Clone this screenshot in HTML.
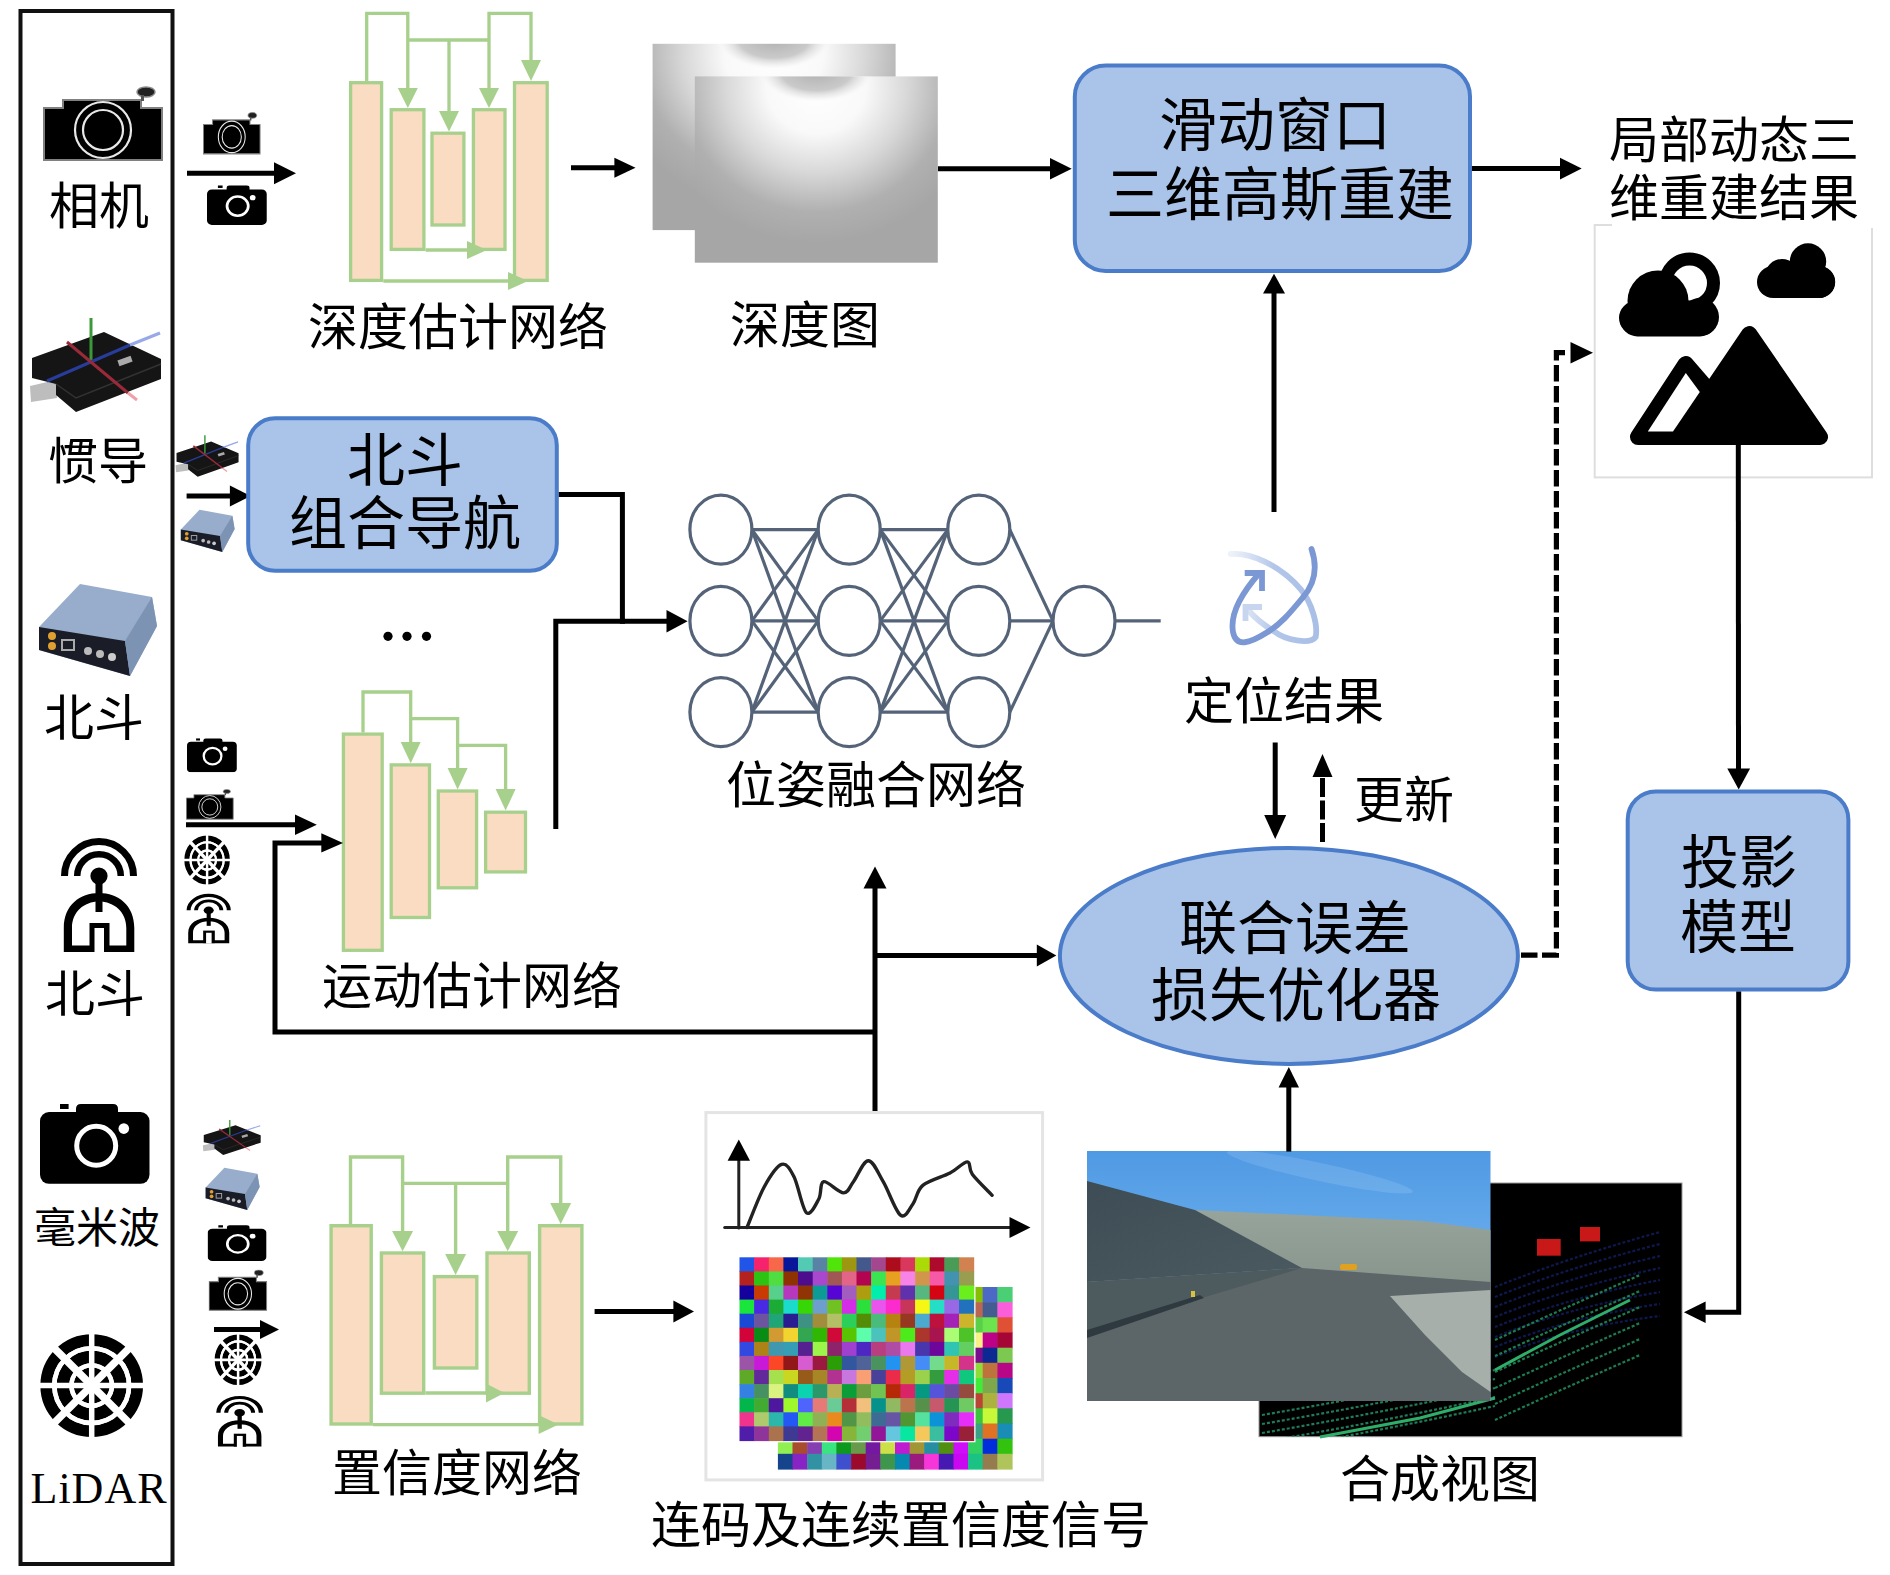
<!DOCTYPE html>
<html lang="zh-CN"><head><meta charset="utf-8"><title>diagram</title>
<style>html,body{margin:0;padding:0;background:#fff;}svg{display:block;font-family:"Liberation Serif",serif;}</style>
</head><body>
<svg width="1890" height="1575" viewBox="0 0 1890 1575">
<rect width="1890" height="1575" fill="#fff"/>
<defs>
<radialGradient id="dg1" gradientUnits="userSpaceOnUse" cx="121.5" cy="10" r="165" gradientTransform="translate(121.5 10) scale(1 0.95) translate(-121.5 -10)">
<stop offset="0" stop-color="#ffffff"/><stop offset="0.3" stop-color="#f9f9f9"/>
<stop offset="0.55" stop-color="#d8d8d8"/><stop offset="0.8" stop-color="#b0b0b0"/><stop offset="1" stop-color="#a6a6a6"/></radialGradient>
<radialGradient id="dg2" gradientUnits="userSpaceOnUse" cx="121.5" cy="-4" r="58" gradientTransform="translate(121.5 -4) scale(1 0.52) translate(-121.5 4)">
<stop offset="0" stop-color="#b0b0b0" stop-opacity="1"/><stop offset="0.6" stop-color="#c4c4c4" stop-opacity="0.9"/><stop offset="0.85" stop-color="#e8e8e8" stop-opacity="0.5"/><stop offset="1" stop-color="#ffffff" stop-opacity="0"/></radialGradient>
<linearGradient id="sky" x1="0" y1="0" x2="0" y2="1"><stop offset="0" stop-color="#509ae4"/><stop offset="0.6" stop-color="#72b4ee"/><stop offset="1" stop-color="#8ccaf4"/></linearGradient>
<linearGradient id="cliff" x1="0" y1="0" x2="0" y2="1"><stop offset="0" stop-color="#97a49c"/><stop offset="1" stop-color="#86948c"/></linearGradient>
<linearGradient id="hill" x1="0" y1="0" x2="1" y2="1"><stop offset="0" stop-color="#3e4c55"/><stop offset="1" stop-color="#4b5a60"/></linearGradient>
<linearGradient id="swB" x1="0" y1="0" x2="1" y2="0"><stop offset="0" stop-color="#c5d4ef" stop-opacity="0.3"/><stop offset="0.5" stop-color="#b3c6ea"/><stop offset="1" stop-color="#a9bfe6"/></linearGradient>
<symbol id="retro" viewBox="43 86 121 76" preserveAspectRatio="none">
<path d="M44,108 H63 V100 H141 V108 H162 V160 H44 Z" fill="#000" stroke="#808080" stroke-width="2"/>
<ellipse cx="146" cy="92" rx="9" ry="5" fill="#222" stroke="#888" stroke-width="1.5"/>
<rect x="141" y="95" width="3" height="6" fill="#555"/>
<circle cx="103" cy="130" r="28" fill="none" stroke="#e8e8e8" stroke-width="2.2"/>
<circle cx="103" cy="130" r="20" fill="none" stroke="#e8e8e8" stroke-width="2.2"/>
</symbol>
<symbol id="modern" viewBox="40 1103 110 81" preserveAspectRatio="none">
<rect x="40" y="1112" width="109.5" height="71.8" rx="9" fill="#000"/>
<path d="M76,1114 V1109 Q76,1104 81,1104 H113 Q118,1104 118,1109 V1114 Z" fill="#000"/>
<rect x="60" y="1104" width="8.6" height="5" fill="#000"/>
<circle cx="96.2" cy="1145.7" r="19.5" fill="none" stroke="#fff" stroke-width="5"/>
<circle cx="123.8" cy="1128.6" r="5.3" fill="#fff"/>
</symbol>
<symbol id="imu" viewBox="28 315 136 100" preserveAspectRatio="none">
<path d="M30,386 L56,380 L57,398 L31,402 Z" fill="#bdbdbd"/>
<path d="M32,358 L104,332 L161,359 L161,379 L76,412 L56,395 L56,384 L32,378 Z" fill="#151515"/>
<path d="M56,384 L76,398 L161,364" fill="none" stroke="#333" stroke-width="1.5"/>
<line x1="91" y1="318" x2="91" y2="360" stroke="#3a9a3a" stroke-width="3"/>
<line x1="47" y1="381" x2="130" y2="345" stroke="#283c9a" stroke-width="3"/>
<line x1="130" y1="345" x2="160" y2="333" stroke="#98a8e8" stroke-width="3"/>
<line x1="67" y1="342" x2="128" y2="393" stroke="#9a2a3a" stroke-width="3"/>
<line x1="128" y1="393" x2="137" y2="400" stroke="#f0a0a8" stroke-width="3"/>
<rect x="118" y="358" width="14" height="6" fill="#aaa" transform="rotate(-20 125 361)"/>
</symbol>
<symbol id="gnss" viewBox="35 580 125 98" preserveAspectRatio="none">
<path d="M39,627 L80,584 L152,597 L157,626 L130,676 L39,650 Z" fill="#97adcb"/>
<path d="M39,627 L125,641 L130,676 L39,650 Z" fill="#1a1d28"/>
<path d="M125,641 L152,597 L157,626 L130,676 Z" fill="#7d93b4"/>
<circle cx="52" cy="636" r="4" fill="#e0a030"/><circle cx="52" cy="646" r="4" fill="#e0a030"/>
<rect x="62" y="640" width="12" height="10" fill="none" stroke="#aaa" stroke-width="2"/>
<circle cx="88" cy="651" r="4" fill="#bbb"/><circle cx="100" cy="654" r="4" fill="#bbb"/><circle cx="112" cy="657" r="4" fill="#ccc"/>
</symbol>
<symbol id="ant" viewBox="60 836 78 118" preserveAspectRatio="none">
<path d="M64.5,876 A34.5,34.5 0 0 1 133.5,876" fill="none" stroke="#000" stroke-width="7"/>
<path d="M77.2,876 A21.8,21.8 0 0 1 120.8,876" fill="none" stroke="#000" stroke-width="6.5"/>
<circle cx="99" cy="876" r="8.6" fill="#000"/>
<rect x="95.5" y="876" width="7" height="36" fill="#000"/>
<path fill-rule="evenodd" fill="#000" d="M63.8,952 V928 C63.8,905 80,893 99,893 C118,893 134.3,905 134.3,928 V952 Z M72,945.5 V928 C72,912 84,901.5 99,901.5 C114,901.5 126.3,912 126.3,928 V945.5 Z"/>
<rect x="89.5" y="923" width="20" height="29" fill="#000"/>
<rect x="94.5" y="928" width="9.5" height="25" fill="#fff"/>
</symbol>
<symbol id="lidar" viewBox="39 1333 105 105" preserveAspectRatio="none">
<circle cx="91.7" cy="1385.6" r="45.5" fill="none" stroke="#000" stroke-width="11.7"/>
<circle cx="91.7" cy="1385.6" r="28.8" fill="none" stroke="#000" stroke-width="12.5"/>
<circle cx="91.7" cy="1385.6" r="12.5" fill="none" stroke="#000" stroke-width="11"/>
<g stroke="#fff" stroke-width="5.5">
<line x1="91.7" y1="1330" x2="91.7" y2="1440"/><line x1="36" y1="1385.6" x2="147" y2="1385.6"/>
</g>
<g stroke="#fff" stroke-width="7.5">
<line x1="52" y1="1346" x2="131.4" y2="1425.2"/><line x1="131.4" y1="1346" x2="52" y2="1425.2"/>
</g>
<circle cx="91.7" cy="1385.6" r="37.4" fill="none" stroke="#fff" stroke-width="4.6"/>
<circle cx="91.7" cy="1385.6" r="20.2" fill="none" stroke="#fff" stroke-width="4.4"/>
</symbol>
</defs>
<rect x="20.5" y="11.0" width="152.0" height="1553.0" rx="0" fill="none" stroke="#111" stroke-width="4"/>
<use href="#retro" x="43" y="86" width="121" height="76"/>
<text x="99" y="223.8" font-size="50" text-anchor="middle">相机</text>
<use href="#imu" x="28" y="315" width="136" height="100"/>
<text x="97.7" y="478.8" font-size="50" text-anchor="middle">惯导</text>
<use href="#gnss" x="35" y="580" width="125" height="98"/>
<text x="94" y="735.8" font-size="50" text-anchor="middle">北斗</text>
<use href="#ant" x="60" y="836" width="78" height="118"/>
<text x="94.8" y="1011.8" font-size="50" text-anchor="middle">北斗</text>
<use href="#modern" x="40" y="1103" width="110" height="81"/>
<text x="97" y="1243.4" font-size="42" text-anchor="middle">毫米波</text>
<use href="#lidar" x="39" y="1333" width="105" height="105"/>
<text x="99" y="1502.6" font-size="44" text-anchor="middle" letter-spacing="1">LiDAR</text>
<use href="#retro" x="203" y="112" width="58.0" height="43.0"/>
<use href="#modern" x="207" y="185" width="60.0" height="40.0"/>
<line x1="187" y1="173.3" x2="275" y2="173.3" stroke="#000" stroke-width="5"/>
<polygon points="296,173.3 274,162.3 274,184.3" fill="#000"/>
<use href="#imu" x="174.6" y="434" width="65.4" height="44.0"/>
<use href="#gnss" x="179" y="508" width="57.0" height="45.0"/>
<line x1="186.6" y1="496" x2="230.9" y2="496" stroke="#000" stroke-width="5"/>
<polygon points="250.7,496 229.9,485.5 229.9,506.5" fill="#000"/>
<use href="#modern" x="187" y="738" width="50.0" height="34.3"/>
<use href="#retro" x="186" y="789" width="48.0" height="31.0"/>
<use href="#lidar" x="183.7" y="835" width="46.6" height="50.0"/>
<use href="#ant" x="186" y="893" width="45.4" height="51.0"/>
<line x1="186" y1="824.7" x2="296" y2="824.7" stroke="#000" stroke-width="5"/>
<polygon points="316.8,824.7 295,814.4000000000001 295,835.0" fill="#000"/>
<use href="#imu" x="202" y="1119" width="60.0" height="37.0"/>
<use href="#gnss" x="203.8" y="1166" width="57.2" height="45.0"/>
<use href="#modern" x="207.6" y="1224.8" width="59.1" height="36.2"/>
<use href="#retro" x="208.6" y="1269.5" width="59.0" height="41.9"/>
<line x1="214" y1="1329.5" x2="261" y2="1329.5" stroke="#000" stroke-width="5"/>
<polygon points="279,1329.5 260,1320.0 260,1339.0" fill="#000"/>
<use href="#lidar" x="214" y="1334" width="48.0" height="51.6"/>
<use href="#ant" x="215.6" y="1395" width="48.1" height="52.5"/>
<rect x="350.6" y="82.7" width="31.0" height="197.7" rx="0" fill="#f9dcc1" stroke="#a8d08d" stroke-width="3.3"/>
<rect x="391.2" y="109.7" width="32.7" height="139.7" rx="0" fill="#f9dcc1" stroke="#a8d08d" stroke-width="3.3"/>
<rect x="432.0" y="133.2" width="31.9" height="91.8" rx="0" fill="#f9dcc1" stroke="#a8d08d" stroke-width="3.3"/>
<rect x="473.4" y="109.7" width="31.6" height="139.7" rx="0" fill="#f9dcc1" stroke="#a8d08d" stroke-width="3.3"/>
<rect x="514.5" y="82.7" width="32.7" height="197.7" rx="0" fill="#f9dcc1" stroke="#a8d08d" stroke-width="3.3"/>
<polyline points="366.7,81 366.7,13.3 407.8,13.3 407.8,92" fill="none" stroke="#a8d08d" stroke-width="3.3" stroke-linejoin="miter"/>
<polygon points="407.8,108 397.8,88 417.8,88" fill="#a8d08d"/>
<polyline points="407.8,40 489,40" fill="none" stroke="#a8d08d" stroke-width="3.3" stroke-linejoin="miter"/>
<polyline points="449,40 449,115" fill="none" stroke="#a8d08d" stroke-width="3.3" stroke-linejoin="miter"/>
<polygon points="449,131.6 439,111 459,111" fill="#a8d08d"/>
<polyline points="489,92 489,13.3 531,13.3 531,64" fill="none" stroke="#a8d08d" stroke-width="3.3" stroke-linejoin="miter"/>
<polygon points="489,108 479,88 499,88" fill="#a8d08d"/>
<polygon points="531,81 521,60 541,60" fill="#a8d08d"/>
<polyline points="425.6,250 470,250" fill="none" stroke="#a8d08d" stroke-width="3.3" stroke-linejoin="miter"/>
<polygon points="487,250 467,241 467,259" fill="#a8d08d"/>
<polyline points="383.3,281 510,281" fill="none" stroke="#a8d08d" stroke-width="3.3" stroke-linejoin="miter"/>
<polygon points="528,281 508,272 508,290" fill="#a8d08d"/>
<rect x="343.4" y="734.1" width="38.8" height="216.2" rx="0" fill="#f9dcc1" stroke="#a8d08d" stroke-width="3.3"/>
<rect x="391.2" y="764.9" width="38.3" height="152.6" rx="0" fill="#f9dcc1" stroke="#a8d08d" stroke-width="3.3"/>
<rect x="438.3" y="791.0" width="38.3" height="96.8" rx="0" fill="#f9dcc1" stroke="#a8d08d" stroke-width="3.3"/>
<rect x="485.6" y="812.2" width="39.9" height="59.7" rx="0" fill="#f9dcc1" stroke="#a8d08d" stroke-width="3.3"/>
<polyline points="363,732.5 363,692 410.7,692 410.7,745" fill="none" stroke="#a8d08d" stroke-width="3.3" stroke-linejoin="miter"/>
<polygon points="410.7,763.2 400.7,742 420.7,742" fill="#a8d08d"/>
<polyline points="410.7,718.7 457.6,718.7 457.6,771" fill="none" stroke="#a8d08d" stroke-width="3.3" stroke-linejoin="miter"/>
<polygon points="457.6,789.4 447.6,768 467.6,768" fill="#a8d08d"/>
<polyline points="457.6,745.3 505.6,745.3 505.6,792" fill="none" stroke="#a8d08d" stroke-width="3.3" stroke-linejoin="miter"/>
<polygon points="505.6,810.6 495.6,789 515.6,789" fill="#a8d08d"/>
<rect x="331.1" y="1225.7" width="40.1" height="198.3" rx="0" fill="#f9dcc1" stroke="#a8d08d" stroke-width="3.4"/>
<rect x="381.4" y="1253.0" width="42.3" height="140.2" rx="0" fill="#f9dcc1" stroke="#a8d08d" stroke-width="3.4"/>
<rect x="434.4" y="1276.6" width="42.4" height="91.4" rx="0" fill="#f9dcc1" stroke="#a8d08d" stroke-width="3.4"/>
<rect x="487.0" y="1253.0" width="42.3" height="140.2" rx="0" fill="#f9dcc1" stroke="#a8d08d" stroke-width="3.4"/>
<rect x="539.6" y="1225.7" width="42.3" height="198.3" rx="0" fill="#f9dcc1" stroke="#a8d08d" stroke-width="3.4"/>
<polyline points="350.5,1224 350.5,1157 402.6,1157 402.6,1233" fill="none" stroke="#a8d08d" stroke-width="3.4" stroke-linejoin="miter"/>
<polygon points="402.6,1251.3 392.1,1231 413.1,1231" fill="#a8d08d"/>
<polyline points="402.6,1183.4 507.7,1183.4" fill="none" stroke="#a8d08d" stroke-width="3.4" stroke-linejoin="miter"/>
<polyline points="455.6,1183.4 455.6,1256" fill="none" stroke="#a8d08d" stroke-width="3.4" stroke-linejoin="miter"/>
<polygon points="455.6,1274.9 445.1,1254 466.1,1254" fill="#a8d08d"/>
<polyline points="507.7,1233 507.7,1157 560.7,1157 560.7,1205" fill="none" stroke="#a8d08d" stroke-width="3.4" stroke-linejoin="miter"/>
<polygon points="507.7,1251.3 497.2,1231 518.2,1231" fill="#a8d08d"/>
<polygon points="560.7,1224 550.2,1203 571.2,1203" fill="#a8d08d"/>
<polyline points="425.4,1393 488,1393" fill="none" stroke="#a8d08d" stroke-width="3.4" stroke-linejoin="miter"/>
<polygon points="504.5,1393 486,1383.5 486,1402.5" fill="#a8d08d"/>
<polyline points="372.9,1424.6 541,1424.6" fill="none" stroke="#a8d08d" stroke-width="3.4" stroke-linejoin="miter"/>
<polygon points="558.5,1424.6 538.6,1415.1 538.6,1434.1" fill="#a8d08d"/>
<text x="457.7" y="345.2" font-size="50" text-anchor="middle">深度估计网络</text>
<text x="471.7" y="1004.4" font-size="50" text-anchor="middle">运动估计网络</text>
<text x="457.4" y="1490.8" font-size="50" text-anchor="middle">置信度网络</text>
<g transform="translate(652.6,43.8)"><rect width="243" height="186.3" fill="url(#dg1)"/><rect width="243" height="186.3" fill="url(#dg2)"/></g>
<g transform="translate(694.8,76.4)"><rect width="243" height="186.3" fill="url(#dg1)"/><rect width="243" height="186.3" fill="url(#dg2)"/></g>
<text x="805" y="342.8" font-size="50" text-anchor="middle">深度图</text>
<line x1="571" y1="167.8" x2="615.4" y2="167.8" stroke="#000" stroke-width="5"/>
<polygon points="635.5,167.8 614.4,157.8 614.4,177.8" fill="#000"/>
<line x1="938" y1="168.8" x2="1051" y2="168.8" stroke="#000" stroke-width="5"/>
<polygon points="1071.7,168.8 1050,158.10000000000002 1050,179.5" fill="#000"/>
<rect x="1074.8" y="65.5" width="395.2" height="205.5" rx="31" fill="#a9c4e8" stroke="#4a7cc9" stroke-width="4"/>
<text x="1275.4" y="146.1" font-size="58" text-anchor="middle">滑动窗口</text>
<text x="1279.5" y="214.8" font-size="58" text-anchor="middle">三维高斯重建</text>
<line x1="1472" y1="168.6" x2="1561" y2="168.6" stroke="#000" stroke-width="5"/>
<polygon points="1581.7,168.6 1560,157.79999999999998 1560,179.4" fill="#000"/>
<text x="1733.5" y="157.6" font-size="50" text-anchor="middle">局部动态三</text>
<text x="1733.5" y="215.8" font-size="50" text-anchor="middle">维重建结果</text>
<rect x="248.2" y="418.2" width="308.6" height="152.6" rx="27" fill="#a9c4e8" stroke="#4a7cc9" stroke-width="4"/>
<text x="404.7" y="480.9" font-size="58" text-anchor="middle">北斗</text>
<text x="405.3" y="544.1" font-size="58" text-anchor="middle">组合导航</text>
<circle cx="388" cy="636.3" r="4.6" fill="#000"/><circle cx="407" cy="636.3" r="4.6" fill="#000"/><circle cx="426.5" cy="636.3" r="4.6" fill="#000"/>
<polyline points="558.8,494.5 622.4,494.5 622.4,621.3 668,621.3" fill="none" stroke="#000" stroke-width="5" stroke-linejoin="miter"/>
<polygon points="687.6,621.3 666.5,610.0999999999999 666.5,632.5" fill="#000"/>
<polyline points="555.8,829 555.8,621.3 625,621.3" fill="none" stroke="#000" stroke-width="5" stroke-linejoin="miter"/>
<g stroke="#546378" stroke-width="3.2">
<line x1="751.9" y1="529.6" x2="818.2" y2="529.6"/>
<line x1="751.9" y1="529.6" x2="818.2" y2="620.9"/>
<line x1="751.9" y1="529.6" x2="818.2" y2="712.1"/>
<line x1="751.9" y1="620.9" x2="818.2" y2="529.6"/>
<line x1="751.9" y1="620.9" x2="818.2" y2="620.9"/>
<line x1="751.9" y1="620.9" x2="818.2" y2="712.1"/>
<line x1="751.9" y1="712.1" x2="818.2" y2="529.6"/>
<line x1="751.9" y1="712.1" x2="818.2" y2="620.9"/>
<line x1="751.9" y1="712.1" x2="818.2" y2="712.1"/>
<line x1="880.2" y1="529.6" x2="947.8" y2="529.6"/>
<line x1="880.2" y1="529.6" x2="947.8" y2="620.9"/>
<line x1="880.2" y1="529.6" x2="947.8" y2="712.1"/>
<line x1="880.2" y1="620.9" x2="947.8" y2="529.6"/>
<line x1="880.2" y1="620.9" x2="947.8" y2="620.9"/>
<line x1="880.2" y1="620.9" x2="947.8" y2="712.1"/>
<line x1="880.2" y1="712.1" x2="947.8" y2="529.6"/>
<line x1="880.2" y1="712.1" x2="947.8" y2="620.9"/>
<line x1="880.2" y1="712.1" x2="947.8" y2="712.1"/>
<line x1="1009.8" y1="529.6" x2="1053" y2="620.9"/>
<line x1="1009.8" y1="620.9" x2="1053" y2="620.9"/>
<line x1="1009.8" y1="712.1" x2="1053" y2="620.9"/>
<line x1="1084" y1="620.9" x2="1160.7" y2="620.9"/>
</g>
<g stroke="#546378" stroke-width="3.2" fill="#fff">
<ellipse cx="720.9" cy="529.6" rx="31" ry="34.5"/>
<ellipse cx="720.9" cy="620.9" rx="31" ry="34.5"/>
<ellipse cx="720.9" cy="712.1" rx="31" ry="34.5"/>
<ellipse cx="849.2" cy="529.6" rx="31" ry="34.5"/>
<ellipse cx="849.2" cy="620.9" rx="31" ry="34.5"/>
<ellipse cx="849.2" cy="712.1" rx="31" ry="34.5"/>
<ellipse cx="978.8" cy="529.6" rx="31" ry="34.5"/>
<ellipse cx="978.8" cy="620.9" rx="31" ry="34.5"/>
<ellipse cx="978.8" cy="712.1" rx="31" ry="34.5"/>
<ellipse cx="1084" cy="620.9" rx="31" ry="34.5"/>
</g>
<text x="876.3" y="802.8" font-size="50" text-anchor="middle">位姿融合网络</text>
<g fill="none" stroke-linecap="round" stroke-width="5.8">
<path d="M1230.6,554 C1250,552 1280,565 1300.8,589.4 C1312,603 1318,625 1315.7,637 C1310,645 1285,640 1274.4,631.5 C1262,624 1255,618 1249,611" stroke="url(#swB)"/>
<path d="M1244.5,607 H1262 M1245.5,604 V621" stroke="#c8d5ee" stroke-linecap="butt"/>
<path d="M1311.5,549 C1318,568 1314,585 1302.4,598 C1290,613 1280,625 1266,633 C1250,643 1236,648 1233,632 C1230,615 1240,595 1259.5,573" stroke="#7b98d4"/>
<path d="M1244.7,573 H1262 V591" stroke="#7b98d4" stroke-linecap="butt"/>
</g>
<text x="1283.9" y="719.2" font-size="50" text-anchor="middle">定位结果</text>
<polyline points="1274,512 1274,291" fill="none" stroke="#000" stroke-width="5" stroke-linejoin="miter"/>
<polygon points="1274,273.8 1263,293.5 1285,293.5" fill="#000"/>
<polyline points="1275.2,742.5 1275.2,818" fill="none" stroke="#000" stroke-width="5" stroke-linejoin="miter"/>
<polygon points="1275.2,839 1264.2,815 1286.2,815" fill="#000"/>
<polyline points="1322.5,778 1322.5,845" fill="none" stroke="#000" stroke-width="5" stroke-linejoin="miter" stroke-dasharray="19,3.5"/>
<polygon points="1322.5,754 1312.5,777 1332.5,777" fill="#000"/>
<text x="1404" y="817.8" font-size="50" text-anchor="middle">更新</text>
<ellipse cx="1288.9" cy="955.9" rx="229" ry="108" fill="#a9c4e8" stroke="#4a7cc9" stroke-width="4"/>
<text x="1295.3" y="948.9" font-size="58" text-anchor="middle">联合误差</text>
<text x="1296" y="1015.8" font-size="58" text-anchor="middle">损失优化器</text>
<polyline points="875,1111 875,886" fill="none" stroke="#000" stroke-width="5" stroke-linejoin="miter"/>
<polygon points="875,866.5 863.5,888.4 886.5,888.4" fill="#000"/>
<polyline points="875,955.6 1038,955.6" fill="none" stroke="#000" stroke-width="5" stroke-linejoin="miter"/>
<polygon points="1056.3,955.6 1036.8,944.6 1036.8,966.6" fill="#000"/>
<polyline points="875,1032 275,1032 275,842.9 323,842.9" fill="none" stroke="#000" stroke-width="5" stroke-linejoin="miter"/>
<polygon points="343,842.9 321.3,833.1999999999999 321.3,852.6" fill="#000"/>
<polyline points="1565,352.7 1556.4,352.7 1556.4,955.2 1520,955.2" fill="none" stroke="#000" stroke-width="5.2" stroke-linejoin="miter" stroke-dasharray="16.5,4.5"/>
<polygon points="1593,352.7 1570.5,341.9 1570.5,363.5" fill="#000"/>
<rect x="1594.7" y="225" width="277.3" height="252.4" fill="none" stroke="#dedede" stroke-width="2"/>
<rect x="1612" y="221" width="270" height="7" fill="#fff"/>
<path d="M1638,437 L1685.8,364 L1710,392 L1749.3,334 L1820,437 Z" fill="#000" stroke="#000" stroke-width="16" stroke-linejoin="round"/>
<path d="M1685.8,373 L1647.8,431.4 L1673,431.4 L1699.8,392 Z" fill="#fff"/>
<circle cx="1689.5" cy="283" r="24" fill="none" stroke="#000" stroke-width="13"/>
<g fill="#000"><circle cx="1658" cy="301" r="30.5"/><circle cx="1636" cy="318" r="17"/><circle cx="1700" cy="317" r="19"/><rect x="1620.4" y="302" width="96.6" height="34.4" rx="17"/></g>
<g fill="#000"><circle cx="1808" cy="261.5" r="18.2"/><circle cx="1782" cy="276" r="17"/><circle cx="1819" cy="282" r="16"/><rect x="1757" y="266" width="78.2" height="32" rx="16"/></g>
<polyline points="1738.3,445 1738.5,770" fill="none" stroke="#000" stroke-width="5" stroke-linejoin="miter"/>
<polygon points="1738.7,789.4 1727.3,768.6 1750.1000000000001,768.6" fill="#000"/>
<rect x="1627.7" y="791.4" width="220.7" height="198.1" rx="28" fill="#a9c4e8" stroke="#4a7cc9" stroke-width="4"/>
<text x="1739.3" y="883.1" font-size="58" text-anchor="middle">投影</text>
<text x="1738" y="948.0" font-size="58" text-anchor="middle">模型</text>
<polyline points="1738.7,991.5 1738.7,1312.2 1704,1312.2" fill="none" stroke="#000" stroke-width="5" stroke-linejoin="miter"/>
<polygon points="1683.9,1312.2 1705.6,1301.4 1705.6,1323.0" fill="#000"/>
<rect x="705.9" y="1112.6" width="336.7" height="367.3" fill="#fff" stroke="#e4e4e4" stroke-width="3"/>
<g stroke="#222" fill="none" stroke-linecap="round" stroke-linejoin="round">
<line x1="738.8" y1="1228" x2="738.8" y2="1158" stroke-width="3"/>
<line x1="724.7" y1="1227.5" x2="1011" y2="1227.5" stroke-width="3"/>
<path d="M747,1227.5 C749.9,1220.7 758.5,1197.2 764.3,1186.7 C770.1,1176.2 776.6,1166.1 781.6,1164.4 C786.6,1162.8 789.9,1168.8 794,1176.8 C798.1,1184.8 802.3,1209.0 806.4,1212.7 C810.5,1216.4 815.9,1204.2 818.8,1199 C821.7,1193.8 819.6,1182.7 823.7,1181.7 C827.8,1180.7 838.5,1192.9 843.5,1192.9 C848.5,1192.9 849.3,1187.1 853.4,1181.7 C857.5,1176.3 863.3,1160.7 868.3,1160.7 C873.3,1160.7 877.8,1172.6 883.2,1181.7 C888.6,1190.8 895.5,1211.5 900.5,1215.2 C905.5,1218.9 909.2,1209.0 912.9,1204 C916.6,1199.0 916.6,1190.6 922.8,1185.4 C929.0,1180.2 942.6,1176.9 950,1173 C957.4,1169.1 963.7,1161.7 967.4,1161.9 C971.1,1162.1 968.2,1168.7 972.3,1174.3 C976.4,1179.9 988.8,1191.8 992.1,1195.3" stroke-width="3.4"/>
</g>
<polygon points="738.8,1139.6 727.5999999999999,1160.7 750.0,1160.7" fill="#000"/>
<polygon points="1030.5,1227.5 1009.5,1216.9 1009.5,1238.1" fill="#000"/>
<rect x="777.9" y="1287.0" width="15.2" height="15.8" fill="#7cb62d"/>
<rect x="792.5" y="1287.0" width="15.2" height="15.8" fill="#1e4a93"/>
<rect x="807.2" y="1287.0" width="15.2" height="15.8" fill="#aa1b0f"/>
<rect x="821.8" y="1287.0" width="15.2" height="15.8" fill="#73c200"/>
<rect x="836.4" y="1287.0" width="15.2" height="15.8" fill="#d53dd2"/>
<rect x="851.1" y="1287.0" width="15.2" height="15.8" fill="#efdd30"/>
<rect x="865.7" y="1287.0" width="15.2" height="15.8" fill="#1ebfd9"/>
<rect x="880.3" y="1287.0" width="15.2" height="15.8" fill="#d0601b"/>
<rect x="895.0" y="1287.0" width="15.2" height="15.8" fill="#95ef7f"/>
<rect x="909.6" y="1287.0" width="15.2" height="15.8" fill="#25f1cf"/>
<rect x="924.2" y="1287.0" width="15.2" height="15.8" fill="#3a08b9"/>
<rect x="938.8" y="1287.0" width="15.2" height="15.8" fill="#d64bf7"/>
<rect x="953.5" y="1287.0" width="15.2" height="15.8" fill="#9b4d86"/>
<rect x="968.1" y="1287.0" width="15.2" height="15.8" fill="#85be03"/>
<rect x="982.7" y="1287.0" width="15.2" height="15.8" fill="#4c69c6"/>
<rect x="997.4" y="1287.0" width="15.2" height="15.8" fill="#4acf74"/>
<rect x="777.9" y="1302.2" width="15.2" height="15.8" fill="#0b71da"/>
<rect x="792.5" y="1302.2" width="15.2" height="15.8" fill="#fd1477"/>
<rect x="807.2" y="1302.2" width="15.2" height="15.8" fill="#716eef"/>
<rect x="821.8" y="1302.2" width="15.2" height="15.8" fill="#cd0a34"/>
<rect x="836.4" y="1302.2" width="15.2" height="15.8" fill="#8c66eb"/>
<rect x="851.1" y="1302.2" width="15.2" height="15.8" fill="#3a6c93"/>
<rect x="865.7" y="1302.2" width="15.2" height="15.8" fill="#960083"/>
<rect x="880.3" y="1302.2" width="15.2" height="15.8" fill="#88339d"/>
<rect x="895.0" y="1302.2" width="15.2" height="15.8" fill="#50f01e"/>
<rect x="909.6" y="1302.2" width="15.2" height="15.8" fill="#913d1e"/>
<rect x="924.2" y="1302.2" width="15.2" height="15.8" fill="#8858f1"/>
<rect x="938.8" y="1302.2" width="15.2" height="15.8" fill="#fe455a"/>
<rect x="953.5" y="1302.2" width="15.2" height="15.8" fill="#78d16a"/>
<rect x="968.1" y="1302.2" width="15.2" height="15.8" fill="#bb6652"/>
<rect x="982.7" y="1302.2" width="15.2" height="15.8" fill="#435d91"/>
<rect x="997.4" y="1302.2" width="15.2" height="15.8" fill="#fa5eda"/>
<rect x="777.9" y="1317.3" width="15.2" height="15.8" fill="#c14290"/>
<rect x="792.5" y="1317.3" width="15.2" height="15.8" fill="#28bcd0"/>
<rect x="807.2" y="1317.3" width="15.2" height="15.8" fill="#33b2f8"/>
<rect x="821.8" y="1317.3" width="15.2" height="15.8" fill="#45d8de"/>
<rect x="836.4" y="1317.3" width="15.2" height="15.8" fill="#bafc61"/>
<rect x="851.1" y="1317.3" width="15.2" height="15.8" fill="#23808d"/>
<rect x="865.7" y="1317.3" width="15.2" height="15.8" fill="#208e56"/>
<rect x="880.3" y="1317.3" width="15.2" height="15.8" fill="#1d4193"/>
<rect x="895.0" y="1317.3" width="15.2" height="15.8" fill="#4064da"/>
<rect x="909.6" y="1317.3" width="15.2" height="15.8" fill="#24e03a"/>
<rect x="924.2" y="1317.3" width="15.2" height="15.8" fill="#d97e70"/>
<rect x="938.8" y="1317.3" width="15.2" height="15.8" fill="#c04f68"/>
<rect x="953.5" y="1317.3" width="15.2" height="15.8" fill="#4476b6"/>
<rect x="968.1" y="1317.3" width="15.2" height="15.8" fill="#59d048"/>
<rect x="982.7" y="1317.3" width="15.2" height="15.8" fill="#6ce44e"/>
<rect x="997.4" y="1317.3" width="15.2" height="15.8" fill="#e05035"/>
<rect x="777.9" y="1332.5" width="15.2" height="15.8" fill="#76e863"/>
<rect x="792.5" y="1332.5" width="15.2" height="15.8" fill="#90be55"/>
<rect x="807.2" y="1332.5" width="15.2" height="15.8" fill="#6857b1"/>
<rect x="821.8" y="1332.5" width="15.2" height="15.8" fill="#11be11"/>
<rect x="836.4" y="1332.5" width="15.2" height="15.8" fill="#b251a5"/>
<rect x="851.1" y="1332.5" width="15.2" height="15.8" fill="#0c1dc0"/>
<rect x="865.7" y="1332.5" width="15.2" height="15.8" fill="#a4c961"/>
<rect x="880.3" y="1332.5" width="15.2" height="15.8" fill="#cdec19"/>
<rect x="895.0" y="1332.5" width="15.2" height="15.8" fill="#dae85c"/>
<rect x="909.6" y="1332.5" width="15.2" height="15.8" fill="#132bb3"/>
<rect x="924.2" y="1332.5" width="15.2" height="15.8" fill="#e7c85a"/>
<rect x="938.8" y="1332.5" width="15.2" height="15.8" fill="#70bc43"/>
<rect x="953.5" y="1332.5" width="15.2" height="15.8" fill="#4ff5a5"/>
<rect x="968.1" y="1332.5" width="15.2" height="15.8" fill="#f8f188"/>
<rect x="982.7" y="1332.5" width="15.2" height="15.8" fill="#be0189"/>
<rect x="997.4" y="1332.5" width="15.2" height="15.8" fill="#a50636"/>
<rect x="777.9" y="1347.7" width="15.2" height="15.8" fill="#7013d8"/>
<rect x="792.5" y="1347.7" width="15.2" height="15.8" fill="#46a6b3"/>
<rect x="807.2" y="1347.7" width="15.2" height="15.8" fill="#aacf6a"/>
<rect x="821.8" y="1347.7" width="15.2" height="15.8" fill="#33910f"/>
<rect x="836.4" y="1347.7" width="15.2" height="15.8" fill="#f6299f"/>
<rect x="851.1" y="1347.7" width="15.2" height="15.8" fill="#ce0b84"/>
<rect x="865.7" y="1347.7" width="15.2" height="15.8" fill="#9f2116"/>
<rect x="880.3" y="1347.7" width="15.2" height="15.8" fill="#45c825"/>
<rect x="895.0" y="1347.7" width="15.2" height="15.8" fill="#07d269"/>
<rect x="909.6" y="1347.7" width="15.2" height="15.8" fill="#62ef69"/>
<rect x="924.2" y="1347.7" width="15.2" height="15.8" fill="#15b49e"/>
<rect x="938.8" y="1347.7" width="15.2" height="15.8" fill="#c9e93b"/>
<rect x="953.5" y="1347.7" width="15.2" height="15.8" fill="#eff61c"/>
<rect x="968.1" y="1347.7" width="15.2" height="15.8" fill="#780d8d"/>
<rect x="982.7" y="1347.7" width="15.2" height="15.8" fill="#0b2991"/>
<rect x="997.4" y="1347.7" width="15.2" height="15.8" fill="#7dc850"/>
<rect x="777.9" y="1362.8" width="15.2" height="15.8" fill="#42e59a"/>
<rect x="792.5" y="1362.8" width="15.2" height="15.8" fill="#9a5150"/>
<rect x="807.2" y="1362.8" width="15.2" height="15.8" fill="#fcdd81"/>
<rect x="821.8" y="1362.8" width="15.2" height="15.8" fill="#c563b9"/>
<rect x="836.4" y="1362.8" width="15.2" height="15.8" fill="#4fb444"/>
<rect x="851.1" y="1362.8" width="15.2" height="15.8" fill="#2939b5"/>
<rect x="865.7" y="1362.8" width="15.2" height="15.8" fill="#8c9a39"/>
<rect x="880.3" y="1362.8" width="15.2" height="15.8" fill="#1c84b7"/>
<rect x="895.0" y="1362.8" width="15.2" height="15.8" fill="#b78252"/>
<rect x="909.6" y="1362.8" width="15.2" height="15.8" fill="#1552b7"/>
<rect x="924.2" y="1362.8" width="15.2" height="15.8" fill="#a027bd"/>
<rect x="938.8" y="1362.8" width="15.2" height="15.8" fill="#3ddc62"/>
<rect x="953.5" y="1362.8" width="15.2" height="15.8" fill="#20c174"/>
<rect x="968.1" y="1362.8" width="15.2" height="15.8" fill="#8edc38"/>
<rect x="982.7" y="1362.8" width="15.2" height="15.8" fill="#bd733b"/>
<rect x="997.4" y="1362.8" width="15.2" height="15.8" fill="#b70686"/>
<rect x="777.9" y="1378.0" width="15.2" height="15.8" fill="#aa136f"/>
<rect x="792.5" y="1378.0" width="15.2" height="15.8" fill="#70e9cf"/>
<rect x="807.2" y="1378.0" width="15.2" height="15.8" fill="#0e14e7"/>
<rect x="821.8" y="1378.0" width="15.2" height="15.8" fill="#1e1ecc"/>
<rect x="836.4" y="1378.0" width="15.2" height="15.8" fill="#8c631f"/>
<rect x="851.1" y="1378.0" width="15.2" height="15.8" fill="#917f12"/>
<rect x="865.7" y="1378.0" width="15.2" height="15.8" fill="#f1ba77"/>
<rect x="880.3" y="1378.0" width="15.2" height="15.8" fill="#e4ec7f"/>
<rect x="895.0" y="1378.0" width="15.2" height="15.8" fill="#d9a312"/>
<rect x="909.6" y="1378.0" width="15.2" height="15.8" fill="#ce05cb"/>
<rect x="924.2" y="1378.0" width="15.2" height="15.8" fill="#ce79e4"/>
<rect x="938.8" y="1378.0" width="15.2" height="15.8" fill="#178f98"/>
<rect x="953.5" y="1378.0" width="15.2" height="15.8" fill="#4b0593"/>
<rect x="968.1" y="1378.0" width="15.2" height="15.8" fill="#42eb38"/>
<rect x="982.7" y="1378.0" width="15.2" height="15.8" fill="#7ea84c"/>
<rect x="997.4" y="1378.0" width="15.2" height="15.8" fill="#1949b9"/>
<rect x="777.9" y="1393.2" width="15.2" height="15.8" fill="#3bb454"/>
<rect x="792.5" y="1393.2" width="15.2" height="15.8" fill="#63c595"/>
<rect x="807.2" y="1393.2" width="15.2" height="15.8" fill="#e24861"/>
<rect x="821.8" y="1393.2" width="15.2" height="15.8" fill="#e3dc26"/>
<rect x="836.4" y="1393.2" width="15.2" height="15.8" fill="#3a33c3"/>
<rect x="851.1" y="1393.2" width="15.2" height="15.8" fill="#081e9d"/>
<rect x="865.7" y="1393.2" width="15.2" height="15.8" fill="#f59b21"/>
<rect x="880.3" y="1393.2" width="15.2" height="15.8" fill="#44cede"/>
<rect x="895.0" y="1393.2" width="15.2" height="15.8" fill="#97a341"/>
<rect x="909.6" y="1393.2" width="15.2" height="15.8" fill="#3e71a6"/>
<rect x="924.2" y="1393.2" width="15.2" height="15.8" fill="#1d04ae"/>
<rect x="938.8" y="1393.2" width="15.2" height="15.8" fill="#724cee"/>
<rect x="953.5" y="1393.2" width="15.2" height="15.8" fill="#4273a5"/>
<rect x="968.1" y="1393.2" width="15.2" height="15.8" fill="#b84634"/>
<rect x="982.7" y="1393.2" width="15.2" height="15.8" fill="#adb13e"/>
<rect x="997.4" y="1393.2" width="15.2" height="15.8" fill="#ce77fd"/>
<rect x="777.9" y="1408.3" width="15.2" height="15.8" fill="#2ac1af"/>
<rect x="792.5" y="1408.3" width="15.2" height="15.8" fill="#cc14ca"/>
<rect x="807.2" y="1408.3" width="15.2" height="15.8" fill="#24eed7"/>
<rect x="821.8" y="1408.3" width="15.2" height="15.8" fill="#24fa7a"/>
<rect x="836.4" y="1408.3" width="15.2" height="15.8" fill="#46a794"/>
<rect x="851.1" y="1408.3" width="15.2" height="15.8" fill="#6b2cfa"/>
<rect x="865.7" y="1408.3" width="15.2" height="15.8" fill="#a24396"/>
<rect x="880.3" y="1408.3" width="15.2" height="15.8" fill="#99dd62"/>
<rect x="895.0" y="1408.3" width="15.2" height="15.8" fill="#a90991"/>
<rect x="909.6" y="1408.3" width="15.2" height="15.8" fill="#bc47a6"/>
<rect x="924.2" y="1408.3" width="15.2" height="15.8" fill="#674b96"/>
<rect x="938.8" y="1408.3" width="15.2" height="15.8" fill="#b546b4"/>
<rect x="953.5" y="1408.3" width="15.2" height="15.8" fill="#19558d"/>
<rect x="968.1" y="1408.3" width="15.2" height="15.8" fill="#3cc43d"/>
<rect x="982.7" y="1408.3" width="15.2" height="15.8" fill="#c7f939"/>
<rect x="997.4" y="1408.3" width="15.2" height="15.8" fill="#26994e"/>
<rect x="777.9" y="1423.5" width="15.2" height="15.8" fill="#48991c"/>
<rect x="792.5" y="1423.5" width="15.2" height="15.8" fill="#970768"/>
<rect x="807.2" y="1423.5" width="15.2" height="15.8" fill="#e44e83"/>
<rect x="821.8" y="1423.5" width="15.2" height="15.8" fill="#9c54d9"/>
<rect x="836.4" y="1423.5" width="15.2" height="15.8" fill="#121daa"/>
<rect x="851.1" y="1423.5" width="15.2" height="15.8" fill="#7404d9"/>
<rect x="865.7" y="1423.5" width="15.2" height="15.8" fill="#60afc4"/>
<rect x="880.3" y="1423.5" width="15.2" height="15.8" fill="#21da36"/>
<rect x="895.0" y="1423.5" width="15.2" height="15.8" fill="#60a7d6"/>
<rect x="909.6" y="1423.5" width="15.2" height="15.8" fill="#6d89f2"/>
<rect x="924.2" y="1423.5" width="15.2" height="15.8" fill="#777ff7"/>
<rect x="938.8" y="1423.5" width="15.2" height="15.8" fill="#dec951"/>
<rect x="953.5" y="1423.5" width="15.2" height="15.8" fill="#3477d6"/>
<rect x="968.1" y="1423.5" width="15.2" height="15.8" fill="#3ca087"/>
<rect x="982.7" y="1423.5" width="15.2" height="15.8" fill="#e27223"/>
<rect x="997.4" y="1423.5" width="15.2" height="15.8" fill="#198db5"/>
<rect x="777.9" y="1438.7" width="15.2" height="15.8" fill="#91f051"/>
<rect x="792.5" y="1438.7" width="15.2" height="15.8" fill="#a84c2d"/>
<rect x="807.2" y="1438.7" width="15.2" height="15.8" fill="#853fb2"/>
<rect x="821.8" y="1438.7" width="15.2" height="15.8" fill="#39e481"/>
<rect x="836.4" y="1438.7" width="15.2" height="15.8" fill="#0c991d"/>
<rect x="851.1" y="1438.7" width="15.2" height="15.8" fill="#69994b"/>
<rect x="865.7" y="1438.7" width="15.2" height="15.8" fill="#7418a1"/>
<rect x="880.3" y="1438.7" width="15.2" height="15.8" fill="#cce148"/>
<rect x="895.0" y="1438.7" width="15.2" height="15.8" fill="#bd1cd0"/>
<rect x="909.6" y="1438.7" width="15.2" height="15.8" fill="#a29535"/>
<rect x="924.2" y="1438.7" width="15.2" height="15.8" fill="#268ea3"/>
<rect x="938.8" y="1438.7" width="15.2" height="15.8" fill="#508f11"/>
<rect x="953.5" y="1438.7" width="15.2" height="15.8" fill="#ce0ef9"/>
<rect x="968.1" y="1438.7" width="15.2" height="15.8" fill="#32cf61"/>
<rect x="982.7" y="1438.7" width="15.2" height="15.8" fill="#022ddb"/>
<rect x="997.4" y="1438.7" width="15.2" height="15.8" fill="#33c30f"/>
<rect x="777.9" y="1453.8" width="15.2" height="15.8" fill="#15438c"/>
<rect x="792.5" y="1453.8" width="15.2" height="15.8" fill="#8824c4"/>
<rect x="807.2" y="1453.8" width="15.2" height="15.8" fill="#3092a2"/>
<rect x="821.8" y="1453.8" width="15.2" height="15.8" fill="#68b5c5"/>
<rect x="836.4" y="1453.8" width="15.2" height="15.8" fill="#3e50cd"/>
<rect x="851.1" y="1453.8" width="15.2" height="15.8" fill="#9b092d"/>
<rect x="865.7" y="1453.8" width="15.2" height="15.8" fill="#751e92"/>
<rect x="880.3" y="1453.8" width="15.2" height="15.8" fill="#3e954c"/>
<rect x="895.0" y="1453.8" width="15.2" height="15.8" fill="#0689b1"/>
<rect x="909.6" y="1453.8" width="15.2" height="15.8" fill="#9b1a7e"/>
<rect x="924.2" y="1453.8" width="15.2" height="15.8" fill="#f636d9"/>
<rect x="938.8" y="1453.8" width="15.2" height="15.8" fill="#4719b3"/>
<rect x="953.5" y="1453.8" width="15.2" height="15.8" fill="#ca08ef"/>
<rect x="968.1" y="1453.8" width="15.2" height="15.8" fill="#1ac383"/>
<rect x="982.7" y="1453.8" width="15.2" height="15.8" fill="#957c4e"/>
<rect x="997.4" y="1453.8" width="15.2" height="15.8" fill="#afc55b"/>
<rect x="737.5" y="1255.3" width="238" height="187" fill="#fff"/>
<rect x="739.5" y="1257.3" width="15.2" height="14.7" fill="#2055e7"/>
<rect x="754.1" y="1257.3" width="15.2" height="14.7" fill="#f6236c"/>
<rect x="768.8" y="1257.3" width="15.2" height="14.7" fill="#f86749"/>
<rect x="783.4" y="1257.3" width="15.2" height="14.7" fill="#081799"/>
<rect x="798.0" y="1257.3" width="15.2" height="14.7" fill="#53cab4"/>
<rect x="812.7" y="1257.3" width="15.2" height="14.7" fill="#5983a5"/>
<rect x="827.3" y="1257.3" width="15.2" height="14.7" fill="#50e40a"/>
<rect x="841.9" y="1257.3" width="15.2" height="14.7" fill="#9c9611"/>
<rect x="856.5" y="1257.3" width="15.2" height="14.7" fill="#43598c"/>
<rect x="871.2" y="1257.3" width="15.2" height="14.7" fill="#a4478f"/>
<rect x="885.8" y="1257.3" width="15.2" height="14.7" fill="#ad0c1d"/>
<rect x="900.4" y="1257.3" width="15.2" height="14.7" fill="#da375c"/>
<rect x="915.1" y="1257.3" width="15.2" height="14.7" fill="#aadb07"/>
<rect x="929.7" y="1257.3" width="15.2" height="14.7" fill="#ae0a2b"/>
<rect x="944.3" y="1257.3" width="15.2" height="14.7" fill="#489c56"/>
<rect x="959.0" y="1257.3" width="15.2" height="14.7" fill="#d18250"/>
<rect x="739.5" y="1271.4" width="15.2" height="14.7" fill="#b3221f"/>
<rect x="754.1" y="1271.4" width="15.2" height="14.7" fill="#2cc313"/>
<rect x="768.8" y="1271.4" width="15.2" height="14.7" fill="#4fdd3f"/>
<rect x="783.4" y="1271.4" width="15.2" height="14.7" fill="#8e3201"/>
<rect x="798.0" y="1271.4" width="15.2" height="14.7" fill="#4d0c8e"/>
<rect x="812.7" y="1271.4" width="15.2" height="14.7" fill="#a948ce"/>
<rect x="827.3" y="1271.4" width="15.2" height="14.7" fill="#a15854"/>
<rect x="841.9" y="1271.4" width="15.2" height="14.7" fill="#e26486"/>
<rect x="856.5" y="1271.4" width="15.2" height="14.7" fill="#b3054f"/>
<rect x="871.2" y="1271.4" width="15.2" height="14.7" fill="#3be551"/>
<rect x="885.8" y="1271.4" width="15.2" height="14.7" fill="#e7a120"/>
<rect x="900.4" y="1271.4" width="15.2" height="14.7" fill="#f883e6"/>
<rect x="915.1" y="1271.4" width="15.2" height="14.7" fill="#d2954c"/>
<rect x="929.7" y="1271.4" width="15.2" height="14.7" fill="#f659a6"/>
<rect x="944.3" y="1271.4" width="15.2" height="14.7" fill="#4292b0"/>
<rect x="959.0" y="1271.4" width="15.2" height="14.7" fill="#989d4f"/>
<rect x="739.5" y="1285.5" width="15.2" height="14.7" fill="#15009e"/>
<rect x="754.1" y="1285.5" width="15.2" height="14.7" fill="#c93b01"/>
<rect x="768.8" y="1285.5" width="15.2" height="14.7" fill="#57d08c"/>
<rect x="783.4" y="1285.5" width="15.2" height="14.7" fill="#b738bc"/>
<rect x="798.0" y="1285.5" width="15.2" height="14.7" fill="#903406"/>
<rect x="812.7" y="1285.5" width="15.2" height="14.7" fill="#0d9b95"/>
<rect x="827.3" y="1285.5" width="15.2" height="14.7" fill="#5605d4"/>
<rect x="841.9" y="1285.5" width="15.2" height="14.7" fill="#a35dbe"/>
<rect x="856.5" y="1285.5" width="15.2" height="14.7" fill="#ae9d0e"/>
<rect x="871.2" y="1285.5" width="15.2" height="14.7" fill="#00eeab"/>
<rect x="885.8" y="1285.5" width="15.2" height="14.7" fill="#c43a4e"/>
<rect x="900.4" y="1285.5" width="15.2" height="14.7" fill="#6031ad"/>
<rect x="915.1" y="1285.5" width="15.2" height="14.7" fill="#56b77f"/>
<rect x="929.7" y="1285.5" width="15.2" height="14.7" fill="#d40413"/>
<rect x="944.3" y="1285.5" width="15.2" height="14.7" fill="#369696"/>
<rect x="959.0" y="1285.5" width="15.2" height="14.7" fill="#6aef1c"/>
<rect x="739.5" y="1299.6" width="15.2" height="14.7" fill="#1ae53c"/>
<rect x="754.1" y="1299.6" width="15.2" height="14.7" fill="#492ae3"/>
<rect x="768.8" y="1299.6" width="15.2" height="14.7" fill="#1cac36"/>
<rect x="783.4" y="1299.6" width="15.2" height="14.7" fill="#1bdbcb"/>
<rect x="798.0" y="1299.6" width="15.2" height="14.7" fill="#37d606"/>
<rect x="812.7" y="1299.6" width="15.2" height="14.7" fill="#6e9ecb"/>
<rect x="827.3" y="1299.6" width="15.2" height="14.7" fill="#71c122"/>
<rect x="841.9" y="1299.6" width="15.2" height="14.7" fill="#d52ce7"/>
<rect x="856.5" y="1299.6" width="15.2" height="14.7" fill="#2ce03b"/>
<rect x="871.2" y="1299.6" width="15.2" height="14.7" fill="#e854ec"/>
<rect x="885.8" y="1299.6" width="15.2" height="14.7" fill="#fc2bce"/>
<rect x="900.4" y="1299.6" width="15.2" height="14.7" fill="#c8355b"/>
<rect x="915.1" y="1299.6" width="15.2" height="14.7" fill="#f7f716"/>
<rect x="929.7" y="1299.6" width="15.2" height="14.7" fill="#25dec5"/>
<rect x="944.3" y="1299.6" width="15.2" height="14.7" fill="#9868e5"/>
<rect x="959.0" y="1299.6" width="15.2" height="14.7" fill="#2271bc"/>
<rect x="739.5" y="1313.7" width="15.2" height="14.7" fill="#1a4ad5"/>
<rect x="754.1" y="1313.7" width="15.2" height="14.7" fill="#6c549e"/>
<rect x="768.8" y="1313.7" width="15.2" height="14.7" fill="#1fa576"/>
<rect x="783.4" y="1313.7" width="15.2" height="14.7" fill="#2a1d91"/>
<rect x="798.0" y="1313.7" width="15.2" height="14.7" fill="#3e9284"/>
<rect x="812.7" y="1313.7" width="15.2" height="14.7" fill="#a18d3c"/>
<rect x="827.3" y="1313.7" width="15.2" height="14.7" fill="#b3c166"/>
<rect x="841.9" y="1313.7" width="15.2" height="14.7" fill="#2ccf5a"/>
<rect x="856.5" y="1313.7" width="15.2" height="14.7" fill="#538c07"/>
<rect x="871.2" y="1313.7" width="15.2" height="14.7" fill="#4abb7b"/>
<rect x="885.8" y="1313.7" width="15.2" height="14.7" fill="#b78310"/>
<rect x="900.4" y="1313.7" width="15.2" height="14.7" fill="#973920"/>
<rect x="915.1" y="1313.7" width="15.2" height="14.7" fill="#4babce"/>
<rect x="929.7" y="1313.7" width="15.2" height="14.7" fill="#bc123d"/>
<rect x="944.3" y="1313.7" width="15.2" height="14.7" fill="#a423b6"/>
<rect x="959.0" y="1313.7" width="15.2" height="14.7" fill="#ccb52d"/>
<rect x="739.5" y="1327.8" width="15.2" height="14.7" fill="#d20338"/>
<rect x="754.1" y="1327.8" width="15.2" height="14.7" fill="#088c16"/>
<rect x="768.8" y="1327.8" width="15.2" height="14.7" fill="#d29a32"/>
<rect x="783.4" y="1327.8" width="15.2" height="14.7" fill="#f2d431"/>
<rect x="798.0" y="1327.8" width="15.2" height="14.7" fill="#33a651"/>
<rect x="812.7" y="1327.8" width="15.2" height="14.7" fill="#30b702"/>
<rect x="827.3" y="1327.8" width="15.2" height="14.7" fill="#d00938"/>
<rect x="841.9" y="1327.8" width="15.2" height="14.7" fill="#58c502"/>
<rect x="856.5" y="1327.8" width="15.2" height="14.7" fill="#5efdac"/>
<rect x="871.2" y="1327.8" width="15.2" height="14.7" fill="#4cc2bd"/>
<rect x="885.8" y="1327.8" width="15.2" height="14.7" fill="#bf9627"/>
<rect x="900.4" y="1327.8" width="15.2" height="14.7" fill="#4eeb1c"/>
<rect x="915.1" y="1327.8" width="15.2" height="14.7" fill="#ab362c"/>
<rect x="929.7" y="1327.8" width="15.2" height="14.7" fill="#a8144d"/>
<rect x="944.3" y="1327.8" width="15.2" height="14.7" fill="#abfd75"/>
<rect x="959.0" y="1327.8" width="15.2" height="14.7" fill="#4ec229"/>
<rect x="739.5" y="1341.9" width="15.2" height="14.7" fill="#3148e1"/>
<rect x="754.1" y="1341.9" width="15.2" height="14.7" fill="#ae8217"/>
<rect x="768.8" y="1341.9" width="15.2" height="14.7" fill="#3f98ae"/>
<rect x="783.4" y="1341.9" width="15.2" height="14.7" fill="#359eb5"/>
<rect x="798.0" y="1341.9" width="15.2" height="14.7" fill="#552090"/>
<rect x="812.7" y="1341.9" width="15.2" height="14.7" fill="#9cf549"/>
<rect x="827.3" y="1341.9" width="15.2" height="14.7" fill="#8d236b"/>
<rect x="841.9" y="1341.9" width="15.2" height="14.7" fill="#9f40ce"/>
<rect x="856.5" y="1341.9" width="15.2" height="14.7" fill="#4e27c3"/>
<rect x="871.2" y="1341.9" width="15.2" height="14.7" fill="#b93e7f"/>
<rect x="885.8" y="1341.9" width="15.2" height="14.7" fill="#ae4da3"/>
<rect x="900.4" y="1341.9" width="15.2" height="14.7" fill="#e979ec"/>
<rect x="915.1" y="1341.9" width="15.2" height="14.7" fill="#4936ad"/>
<rect x="929.7" y="1341.9" width="15.2" height="14.7" fill="#6d079c"/>
<rect x="944.3" y="1341.9" width="15.2" height="14.7" fill="#30c5b2"/>
<rect x="959.0" y="1341.9" width="15.2" height="14.7" fill="#62cf60"/>
<rect x="739.5" y="1355.9" width="15.2" height="14.7" fill="#9c55a6"/>
<rect x="754.1" y="1355.9" width="15.2" height="14.7" fill="#c818d8"/>
<rect x="768.8" y="1355.9" width="15.2" height="14.7" fill="#fc4726"/>
<rect x="783.4" y="1355.9" width="15.2" height="14.7" fill="#911719"/>
<rect x="798.0" y="1355.9" width="15.2" height="14.7" fill="#d65ccf"/>
<rect x="812.7" y="1355.9" width="15.2" height="14.7" fill="#9b183e"/>
<rect x="827.3" y="1355.9" width="15.2" height="14.7" fill="#2b9d07"/>
<rect x="841.9" y="1355.9" width="15.2" height="14.7" fill="#33579e"/>
<rect x="856.5" y="1355.9" width="15.2" height="14.7" fill="#506398"/>
<rect x="871.2" y="1355.9" width="15.2" height="14.7" fill="#4a925e"/>
<rect x="885.8" y="1355.9" width="15.2" height="14.7" fill="#2293f1"/>
<rect x="900.4" y="1355.9" width="15.2" height="14.7" fill="#b09837"/>
<rect x="915.1" y="1355.9" width="15.2" height="14.7" fill="#458cf7"/>
<rect x="929.7" y="1355.9" width="15.2" height="14.7" fill="#72dc8c"/>
<rect x="944.3" y="1355.9" width="15.2" height="14.7" fill="#c6b728"/>
<rect x="959.0" y="1355.9" width="15.2" height="14.7" fill="#d33389"/>
<rect x="739.5" y="1370.0" width="15.2" height="14.7" fill="#5fa929"/>
<rect x="754.1" y="1370.0" width="15.2" height="14.7" fill="#62299b"/>
<rect x="768.8" y="1370.0" width="15.2" height="14.7" fill="#a5e04d"/>
<rect x="783.4" y="1370.0" width="15.2" height="14.7" fill="#c9d721"/>
<rect x="798.0" y="1370.0" width="15.2" height="14.7" fill="#965a1b"/>
<rect x="812.7" y="1370.0" width="15.2" height="14.7" fill="#a78625"/>
<rect x="827.3" y="1370.0" width="15.2" height="14.7" fill="#b13290"/>
<rect x="841.9" y="1370.0" width="15.2" height="14.7" fill="#c877df"/>
<rect x="856.5" y="1370.0" width="15.2" height="14.7" fill="#f99f74"/>
<rect x="871.2" y="1370.0" width="15.2" height="14.7" fill="#494199"/>
<rect x="885.8" y="1370.0" width="15.2" height="14.7" fill="#ea2b4a"/>
<rect x="900.4" y="1370.0" width="15.2" height="14.7" fill="#b49d25"/>
<rect x="915.1" y="1370.0" width="15.2" height="14.7" fill="#9bd24d"/>
<rect x="929.7" y="1370.0" width="15.2" height="14.7" fill="#349b3e"/>
<rect x="944.3" y="1370.0" width="15.2" height="14.7" fill="#e62de8"/>
<rect x="959.0" y="1370.0" width="15.2" height="14.7" fill="#10c77e"/>
<rect x="739.5" y="1384.1" width="15.2" height="14.7" fill="#3481e1"/>
<rect x="754.1" y="1384.1" width="15.2" height="14.7" fill="#479062"/>
<rect x="768.8" y="1384.1" width="15.2" height="14.7" fill="#d9f280"/>
<rect x="783.4" y="1384.1" width="15.2" height="14.7" fill="#128c7e"/>
<rect x="798.0" y="1384.1" width="15.2" height="14.7" fill="#0cd3af"/>
<rect x="812.7" y="1384.1" width="15.2" height="14.7" fill="#2c9769"/>
<rect x="827.3" y="1384.1" width="15.2" height="14.7" fill="#b7b054"/>
<rect x="841.9" y="1384.1" width="15.2" height="14.7" fill="#0a9d38"/>
<rect x="856.5" y="1384.1" width="15.2" height="14.7" fill="#6c9e3f"/>
<rect x="871.2" y="1384.1" width="15.2" height="14.7" fill="#71c352"/>
<rect x="885.8" y="1384.1" width="15.2" height="14.7" fill="#b62907"/>
<rect x="900.4" y="1384.1" width="15.2" height="14.7" fill="#d92568"/>
<rect x="915.1" y="1384.1" width="15.2" height="14.7" fill="#049980"/>
<rect x="929.7" y="1384.1" width="15.2" height="14.7" fill="#5654d9"/>
<rect x="944.3" y="1384.1" width="15.2" height="14.7" fill="#6c4ba3"/>
<rect x="959.0" y="1384.1" width="15.2" height="14.7" fill="#954c3f"/>
<rect x="739.5" y="1398.2" width="15.2" height="14.7" fill="#02b64b"/>
<rect x="754.1" y="1398.2" width="15.2" height="14.7" fill="#42ac32"/>
<rect x="768.8" y="1398.2" width="15.2" height="14.7" fill="#4d189e"/>
<rect x="783.4" y="1398.2" width="15.2" height="14.7" fill="#9ef82c"/>
<rect x="798.0" y="1398.2" width="15.2" height="14.7" fill="#4e64fc"/>
<rect x="812.7" y="1398.2" width="15.2" height="14.7" fill="#e57a76"/>
<rect x="827.3" y="1398.2" width="15.2" height="14.7" fill="#6acb97"/>
<rect x="841.9" y="1398.2" width="15.2" height="14.7" fill="#b42f38"/>
<rect x="856.5" y="1398.2" width="15.2" height="14.7" fill="#f3bf7c"/>
<rect x="871.2" y="1398.2" width="15.2" height="14.7" fill="#05928a"/>
<rect x="885.8" y="1398.2" width="15.2" height="14.7" fill="#90b961"/>
<rect x="900.4" y="1398.2" width="15.2" height="14.7" fill="#bb744c"/>
<rect x="915.1" y="1398.2" width="15.2" height="14.7" fill="#56904b"/>
<rect x="929.7" y="1398.2" width="15.2" height="14.7" fill="#c6596c"/>
<rect x="944.3" y="1398.2" width="15.2" height="14.7" fill="#269554"/>
<rect x="959.0" y="1398.2" width="15.2" height="14.7" fill="#6fca63"/>
<rect x="739.5" y="1412.3" width="15.2" height="14.7" fill="#ee348c"/>
<rect x="754.1" y="1412.3" width="15.2" height="14.7" fill="#afca6d"/>
<rect x="768.8" y="1412.3" width="15.2" height="14.7" fill="#2bb7ac"/>
<rect x="783.4" y="1412.3" width="15.2" height="14.7" fill="#2458f5"/>
<rect x="798.0" y="1412.3" width="15.2" height="14.7" fill="#60eb47"/>
<rect x="812.7" y="1412.3" width="15.2" height="14.7" fill="#90b055"/>
<rect x="827.3" y="1412.3" width="15.2" height="14.7" fill="#ea891d"/>
<rect x="841.9" y="1412.3" width="15.2" height="14.7" fill="#519547"/>
<rect x="856.5" y="1412.3" width="15.2" height="14.7" fill="#91bd5f"/>
<rect x="871.2" y="1412.3" width="15.2" height="14.7" fill="#3d6b93"/>
<rect x="885.8" y="1412.3" width="15.2" height="14.7" fill="#6555a3"/>
<rect x="900.4" y="1412.3" width="15.2" height="14.7" fill="#509734"/>
<rect x="915.1" y="1412.3" width="15.2" height="14.7" fill="#55e29f"/>
<rect x="929.7" y="1412.3" width="15.2" height="14.7" fill="#0c92d7"/>
<rect x="944.3" y="1412.3" width="15.2" height="14.7" fill="#7e2cbe"/>
<rect x="959.0" y="1412.3" width="15.2" height="14.7" fill="#e52ff9"/>
<rect x="739.5" y="1426.4" width="15.2" height="14.7" fill="#501caa"/>
<rect x="754.1" y="1426.4" width="15.2" height="14.7" fill="#8e349b"/>
<rect x="768.8" y="1426.4" width="15.2" height="14.7" fill="#aa724d"/>
<rect x="783.4" y="1426.4" width="15.2" height="14.7" fill="#3e3993"/>
<rect x="798.0" y="1426.4" width="15.2" height="14.7" fill="#62228f"/>
<rect x="812.7" y="1426.4" width="15.2" height="14.7" fill="#b57356"/>
<rect x="827.3" y="1426.4" width="15.2" height="14.7" fill="#d205b1"/>
<rect x="841.9" y="1426.4" width="15.2" height="14.7" fill="#85b539"/>
<rect x="856.5" y="1426.4" width="15.2" height="14.7" fill="#72cf70"/>
<rect x="871.2" y="1426.4" width="15.2" height="14.7" fill="#921697"/>
<rect x="885.8" y="1426.4" width="15.2" height="14.7" fill="#65c7dd"/>
<rect x="900.4" y="1426.4" width="15.2" height="14.7" fill="#07e79f"/>
<rect x="915.1" y="1426.4" width="15.2" height="14.7" fill="#f5c85c"/>
<rect x="929.7" y="1426.4" width="15.2" height="14.7" fill="#3bbea0"/>
<rect x="944.3" y="1426.4" width="15.2" height="14.7" fill="#7c07c9"/>
<rect x="959.0" y="1426.4" width="15.2" height="14.7" fill="#982137"/>
<text x="901.4" y="1542.5" font-size="50" text-anchor="middle">连码及连续置信度信号</text>
<line x1="594.6" y1="1311.4" x2="674.4" y2="1311.4" stroke="#000" stroke-width="5"/>
<polygon points="694,1311.4 673.4,1300.4 673.4,1322.4" fill="#000"/>
<rect x="1259" y="1183" width="423" height="253.7" fill="#000" stroke="#999" stroke-width="1"/>
<clipPath id="lc"><rect x="1259" y="1183" width="423" height="253.7"/></clipPath>
<g fill="none" stroke-width="2.2" clip-path="url(#lc)" stroke-dasharray="3,2">
<path d="M1495,1287 Q1570,1257 1660,1232" stroke="#1a2c8c" opacity="0.55"/>
<path d="M1495,1297 Q1570,1267 1660,1244" stroke="#1a2c8c" opacity="0.55"/>
<path d="M1495,1307 Q1570,1277 1660,1256" stroke="#1a2c8c" opacity="0.55"/>
<path d="M1495,1317 Q1570,1287 1660,1268" stroke="#1a2c8c" opacity="0.55"/>
<path d="M1495,1327 Q1570,1297 1660,1280" stroke="#1a2c8c" opacity="0.55"/>
<path d="M1495,1337 Q1570,1307 1660,1292" stroke="#1a2c8c" opacity="0.55"/>
<path d="M1495,1347 Q1570,1317 1660,1304" stroke="#1a2c8c" opacity="0.55"/>
<path d="M1495,1357 Q1570,1327 1660,1316" stroke="#1a2c8c" opacity="0.55"/>
<path d="M1495,1340 Q1560,1310 1640,1275" stroke="#1f8a58" opacity="0.9"/>
<path d="M1495,1356 Q1560,1326 1640,1291" stroke="#1f8a58" opacity="0.9"/>
<path d="M1495,1372 Q1560,1342 1640,1307" stroke="#1f8a58" opacity="0.9"/>
<path d="M1495,1388 Q1560,1358 1640,1323" stroke="#1f8a58" opacity="0.9"/>
<path d="M1495,1404 Q1560,1374 1640,1339" stroke="#1f8a58" opacity="0.9"/>
<path d="M1495,1420 Q1560,1390 1640,1355" stroke="#1f8a58" opacity="0.9"/>
<path d="M1262,1415 Q1380,1395 1495,1370" stroke="#238a62" opacity="0.9"/>
<path d="M1262,1424 Q1380,1404 1495,1379" stroke="#238a62" opacity="0.9"/>
<path d="M1262,1433 Q1380,1413 1495,1388" stroke="#238a62" opacity="0.9"/>
<path d="M1262,1442 Q1380,1422 1495,1397" stroke="#238a62" opacity="0.9"/>
<path d="M1262,1451 Q1380,1431 1495,1406" stroke="#238a62" opacity="0.9"/>
</g>
<g stroke="#2fae6a" stroke-width="3" fill="none"><path d="M1495,1370 L1560,1335 L1630,1300"/><path d="M1320,1437 L1420,1418 L1495,1398"/></g>
<rect x="1537" y="1239" width="23.7" height="16.7" fill="#c81818"/><rect x="1580" y="1227" width="20" height="14.4" fill="#c81818"/>
<g>
<rect x="1087" y="1151" width="403.5" height="250" fill="url(#sky)"/>
<ellipse cx="1320" cy="1172" rx="95" ry="9" fill="#d8ecff" opacity="0.15" transform="rotate(12 1320 1172)"/>
<polygon points="1195,1210 1423,1221 1490.5,1230 1490.5,1290 1302,1275" fill="url(#cliff)"/>
<polygon points="1087,1181 1195,1210 1302,1268 1087,1282" fill="url(#hill)"/>
<polygon points="1087,1282 1302,1268 1490.5,1282 1490.5,1401 1087,1401" fill="#5c6567"/>
<polygon points="1087,1282 1302,1268 1087,1332" fill="#4d5a5e"/>
<polygon points="1390,1296 1490.5,1290 1490.5,1392 1462,1372 1425,1335" fill="#a6afa9"/>
<polygon points="1087,1330 1200,1295 1204,1298 1087,1338" fill="#2e3a40"/>
<rect x="1340" y="1264" width="17" height="6" rx="2" fill="#e0a020"/><rect x="1191" y="1291" width="4" height="6" fill="#d8c040"/>
</g>
<text x="1440" y="1497.2" font-size="50" text-anchor="middle">合成视图</text>
<polyline points="1288.8,1151.6 1288.8,1086" fill="none" stroke="#000" stroke-width="5" stroke-linejoin="miter"/>
<polygon points="1288.8,1067 1278.6,1087.6 1299.0,1087.6" fill="#000"/>
</svg>
</body></html>
